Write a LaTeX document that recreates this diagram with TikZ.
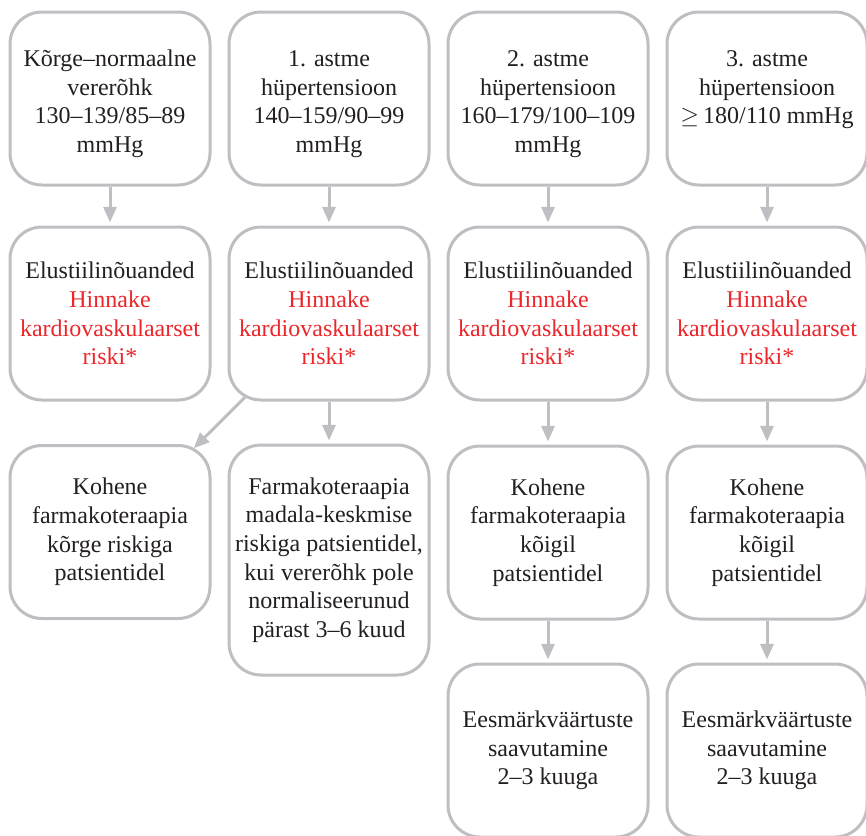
\documentclass[tikz,border=0pt]{standalone}
\usepackage{fontspec}
\setmainfont{Liberation Serif}
\usepackage{tikz}
\usetikzlibrary{arrows.meta}
\definecolor{boxgray}{RGB}{190,191,195}
\definecolor{riskred}{RGB}{236,38,42}
\definecolor{inkblack}{RGB}{35,31,32}
\tikzstyle{stage} = [draw=boxgray, line width=1.5pt, rounded corners=16pt, fill=white, minimum width=100pt, minimum height=86.5pt, inner sep=2pt, align=center, text=inkblack, font={\fontsize{12}{14.3}\selectfont}]
\tikzstyle{tall} = [stage, minimum height=115pt]
\tikzstyle{flow} = [draw=boxgray, line width=1.5pt, -{Triangle[width=6.5pt,length=7.8pt]}, shorten >=1.5pt]
\newcommand{\riskhint}{Elustiilinõuanded\\\textcolor{riskred}{Hinnake}\\\textcolor{riskred}{kardiovaskulaarset}\\\textcolor{riskred}{riski*}}
\newcommand{\topgap}{\rule{0pt}{13.5pt}}

\begin{document}
\begin{tikzpicture}[x=0.5pt,y=-0.5pt]
    \useasboundingbox (0,0) rectangle (866,835);
    % grades
    \node[stage](a1) at (110,98.5){\topgap Kõrge–normaalne\\vererõhk\\130–139/85–89\\mmHg};
    \node[stage](b1) at (329,98.5){\topgap 1. astme\\hüpertensioon\\140–159/90–99\\mmHg};
    \node[stage](c1) at (548,98.5){\topgap 2. astme\\hüpertensioon\\160–179/100–109\\mmHg};
    \node[stage](d1) at (767,98.5){\topgap 3. astme\\hüpertensioon\\$\geq$\,180/110 mmHg\\\phantom{mmHg}};
    % lifestyle
    \node[stage](a2) at (110,313.5){\riskhint};
    \node[stage](b2) at (329,313.5){\riskhint};
    \node[stage](c2) at (548,313.5){\riskhint};
    \node[stage](d2) at (767,313.5){\riskhint};
    % therapy
    \node[stage](a3) at (110,532){Kohene\\farmakoteraapia\\kõrge riskiga\\patsientidel};
    \node[tall](b3) at (329,560){Farmakoteraapia\\madala-keskmise\\riskiga patsientidel,\\kui vererõhk pole\\normaliseerunud\\pärast 3–6 kuud};
    \node[stage](c3) at (548,532.5){Kohene\\farmakoteraapia\\kõigil\\patsientidel};
    \node[stage](d3) at (767,532.5){Kohene\\farmakoteraapia\\kõigil\\patsientidel};
    % targets
    \node[stage](c4) at (548,750.5){Eesmärkväärtuste\\saavutamine\\2–3 kuuga};
    \node[stage](d4) at (767,750.5){Eesmärkväärtuste\\saavutamine\\2–3 kuuga};
    \draw[flow](a1)--(a2);
    \draw[flow](b1)--(b2);
    \draw[flow](c1)--(c2);
    \draw[flow](d1)--(d2);
    \draw[flow,shorten <=-3pt,shorten >=-3pt](b2)--(a3);
    \draw[flow](b2.south)--(b3.north);
    \draw[flow](c2)--(c3);
    \draw[flow](d2)--(d3);
    \draw[flow](c3)--(c4);
    \draw[flow](d3)--(d4);
  \end{tikzpicture}
\end{document}
